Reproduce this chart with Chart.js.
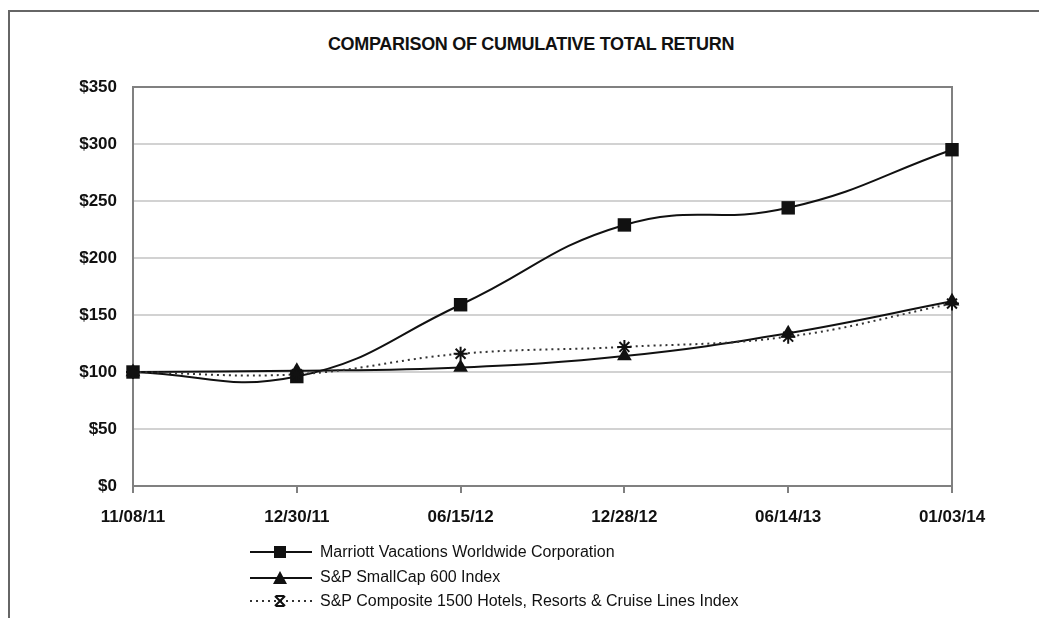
<!DOCTYPE html>
<html>
<head>
<meta charset="utf-8">
<script src="https://cdn.jsdelivr.net/npm/chart.js@4/dist/chart.umd.min.js"></script>
<style>
  html, body { margin: 0; padding: 0; background: #fff; }
  #wrap { position: relative; width: 1039px; height: 618px; overflow: hidden; font-family: "Liberation Sans", Arial, sans-serif; }
  #frame { position: absolute; left: 8px; top: 10px; right: -4px; bottom: -4px; border-top: 2px solid #666; border-left: 2px solid #666; }
  #title { position: absolute; left: 0; top: 34px; width: 1062px; text-align: center; font-weight: bold; font-size: 18px; color: #111; letter-spacing: -0.3px; }
  #chart { position: absolute; left: 0; top: 0; }
  #legend { position: absolute; left: 248px; top: 540px; font-size: 16px; color: #111; }
  #legend .row { height: 24.5px; display: flex; align-items: center; }
  #legend svg { margin-right: 6px; }
</style>
</head>
<body>
<div id="wrap">
  <div id="frame"></div>
  <div id="title">COMPARISON OF CUMULATIVE TOTAL RETURN</div>
  <canvas id="chart" width="1039" height="618"></canvas>
  <div id="legend">
    <div class="row">
      <svg width="66" height="16"><line x1="2" y1="8" x2="64" y2="8" stroke="#111" stroke-width="2"/><rect x="26" y="2" width="12" height="12" fill="#111"/></svg>
      <span>Marriott Vacations Worldwide Corporation</span>
    </div>
    <div class="row">
      <svg width="66" height="16"><line x1="2" y1="9" x2="64" y2="9" stroke="#111" stroke-width="2"/><polygon points="32,2 39,15 25,15" fill="#111"/></svg>
      <span>S&amp;P SmallCap 600 Index</span>
    </div>
    <div class="row">
      <svg width="66" height="16"><line x1="2" y1="8" x2="64" y2="8" stroke="#333" stroke-width="2" stroke-dasharray="2,4"/><path d="M27 3 L37 13 M37 3 L27 13 M28 3 L36 3 M28 13 L36 13" stroke="#111" stroke-width="2"/></svg>
      <span>S&amp;P Composite 1500 Hotels, Resorts &amp; Cruise Lines Index</span>
    </div>
  </div>
</div>
<script>
const dates = ['11/08/11', '12/30/11', '06/15/12', '12/28/12', '06/14/13', '01/03/14']
const marriott = [100, 96, 159, 229, 244, 295]
const smallCap600 = [100, 101, 104, 114, 134, 162]
const hotels1500 = [100, 98, 116, 122, 131, 160]
const yTicks = [0, 50, 100, 150, 200, 250, 300, 350]

// top and right edges of the plot box
const plotBox = {
  id: 'plotBox',
  beforeDatasetsDraw(chart) {
    const { ctx, chartArea: a } = chart
    ctx.save()
    ctx.strokeStyle = '#808080'
    ctx.lineWidth = 2
    ctx.beginPath()
    ctx.moveTo(a.left, a.top)
    ctx.lineTo(a.right, a.top)
    ctx.lineTo(a.right, a.bottom)
    ctx.stroke()
    ctx.restore()
  }
}

new Chart(document.getElementById('chart'), {
  type: 'line',
  data: {
    labels: dates,
    datasets: [
      {
        label: 'S&P Composite 1500 Hotels, Resorts & Cruise Lines Index',
        data: hotels1500,
        borderColor: '#333',
        borderWidth: 2,
        borderDash: [2, 4],
        pointStyle: 'star',
        pointRadius: 7,
        pointBorderWidth: 2,
        pointBorderColor: '#111',
        pointBackgroundColor: '#111',
        tension: 0.4,
        clip: false,
        order: 0
      },
      {
        label: 'S&P SmallCap 600 Index',
        data: smallCap600,
        borderColor: '#111',
        borderWidth: 2,
        pointStyle: 'triangle',
        pointRadius: 8.5,
        pointBorderWidth: 0,
        pointBackgroundColor: '#111',
        tension: 0.4,
        clip: false,
        order: 1
      },
      {
        label: 'Marriott Vacations Worldwide Corporation',
        data: marriott,
        borderColor: '#111',
        borderWidth: 2,
        pointStyle: 'rect',
        pointRadius: 9.5,
        pointBorderWidth: 0,
        pointBackgroundColor: '#111',
        tension: 0.45,
        clip: false,
        order: 2
      }
    ]
  },
  options: {
    responsive: false,
    animation: false,
    devicePixelRatio: 1,
    layout: { padding: { top: 87, right: 87, bottom: 82, left: 0 } },
    plugins: {
      legend: { display: false },
      title: { display: false },
      tooltip: { enabled: false }
    },
    scales: {
      x: {
        type: 'category',
        offset: false,
        afterFit: s => { s.height = 50 },
        grid: { drawOnChartArea: false, drawTicks: true, tickLength: 7, color: '#808080', lineWidth: 2 },
        border: { color: '#808080', width: 2 },
        ticks: {
          color: '#111',
          font: { family: '"Liberation Sans", Arial, sans-serif', size: 17, weight: 'bold' },
          padding: 14,
          maxRotation: 0,
          autoSkip: false
        }
      },
      y: {
        min: 0,
        max: 350,
        afterFit: s => { s.width = 133 },
        afterBuildTicks: s => { s.ticks = yTicks.map(v => ({ value: v })) },
        grid: { color: '#d2d2d2', lineWidth: 2, drawTicks: false },
        border: { color: '#808080', width: 2 },
        ticks: {
          color: '#111',
          font: { family: '"Liberation Sans", Arial, sans-serif', size: 17, weight: 'bold' },
          padding: 16,
          callback: v => '$' + v
        }
      }
    }
  },
  plugins: [plotBox]
})
</script>
</body>
</html>
